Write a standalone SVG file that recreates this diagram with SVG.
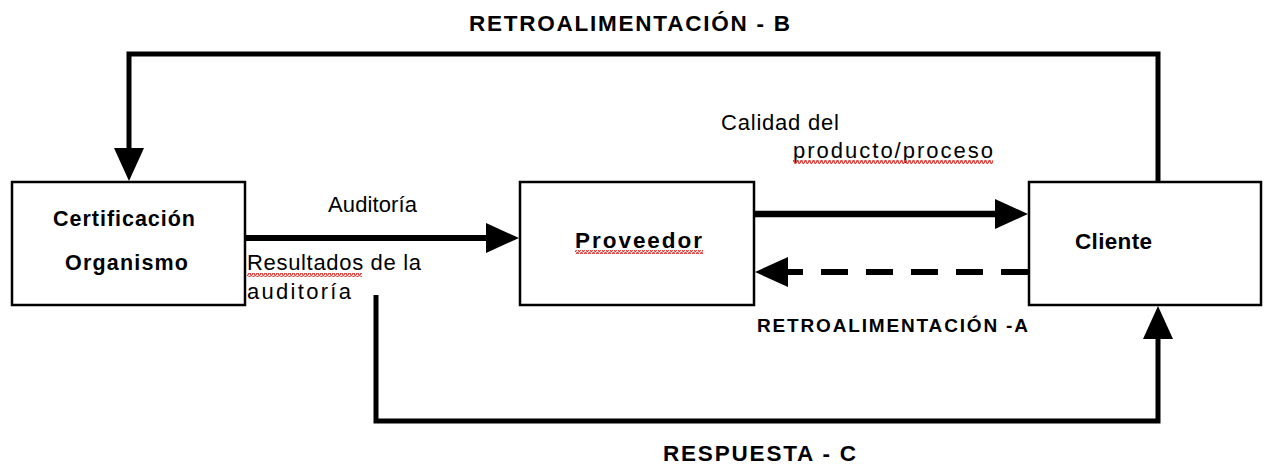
<svg xmlns="http://www.w3.org/2000/svg" width="1264" height="465" viewBox="0 0 1264 465">
<style>
.box{fill:#fff;stroke:#000;stroke-width:2.5}
.t{font-family:"Liberation Sans",Arial,sans-serif;fill:#000}
.b{font-weight:bold}
.c{fill:none;stroke:#000;stroke-linejoin:miter}
.wave{fill:url(#wavy)}
</style>
<defs>
<marker id="head" markerUnits="userSpaceOnUse" viewBox="0 0 33 30" markerWidth="33" markerHeight="30" refX="0" refY="15" orient="auto">
<path d="M0,0 L33,15 L0,30 Z" fill="#000"/>
</marker>
<pattern id="wavy" width="4" height="4" patternUnits="userSpaceOnUse">
<path d="M0,3.3 L1,0.7 L2,0.7 L3,3.3 L4,3.3" fill="none" stroke="#e0403a" stroke-width="1.3"/>
</pattern>
</defs>
<rect width="1264" height="465" fill="#fff"/>
<g id="connectors">
<path class="c" d="M1158,181 V54 H129 V148" stroke-width="5" marker-end="url(#head)"/>
<path class="c" d="M376,295 V421 H1158 V339" stroke-width="5" marker-end="url(#head)"/>
<path class="c" d="M246,238 H486" stroke-width="6" marker-end="url(#head)"/>
<path class="c" d="M755,214 H995" stroke-width="6.5" marker-end="url(#head)"/>
<path class="c" d="M1028,272 H788" stroke-width="6" stroke-dasharray="27 18" marker-end="url(#head)"/>
</g>
<g id="certificacion">
<rect class="box" x="12" y="182" width="233" height="123"/>
<text class="t b" x="53" y="226" font-size="21.5" textLength="142">Certificación</text>
<text class="t b" x="65" y="270" font-size="21.5" textLength="123">Organismo</text>
</g>
<g id="proveedor">
<rect class="box" x="520" y="182" width="234" height="123"/>
<text class="t b" x="575" y="248" font-size="22.5" textLength="127">Proveedor</text>
<rect class="wave" x="575" y="250" width="128" height="4"/>
</g>
<g id="cliente">
<rect class="box" x="1029" y="182" width="232" height="123"/>
<text class="t b" x="1075" y="249" font-size="22.5" textLength="77">Cliente</text>
</g>
<g id="labels">
<text class="t b" x="469" y="31" font-size="22.5" textLength="321">RETROALIMENTACIÓN - B</text>
<text class="t" x="328" y="212" font-size="22" textLength="89">Auditoría</text>
<text class="t" x="247" y="270" font-size="22" textLength="174">Resultados de la</text>
<rect class="wave" x="247" y="273" width="115" height="4"/>
<text class="t" x="247" y="299" font-size="22" textLength="104">auditoría</text>
<text class="t" x="721" y="130" font-size="22" textLength="118">Calidad del</text>
<text class="t" x="793" y="158" font-size="22" textLength="200">producto/proceso</text>
<rect class="wave" x="793" y="160" width="200" height="4"/>
<text class="t b" x="757" y="332" font-size="19" textLength="271">RETROALIMENTACIÓN -A</text>
<text class="t b" x="663" y="461" font-size="22.5" textLength="193">RESPUESTA - C</text>
</g>
</svg>
